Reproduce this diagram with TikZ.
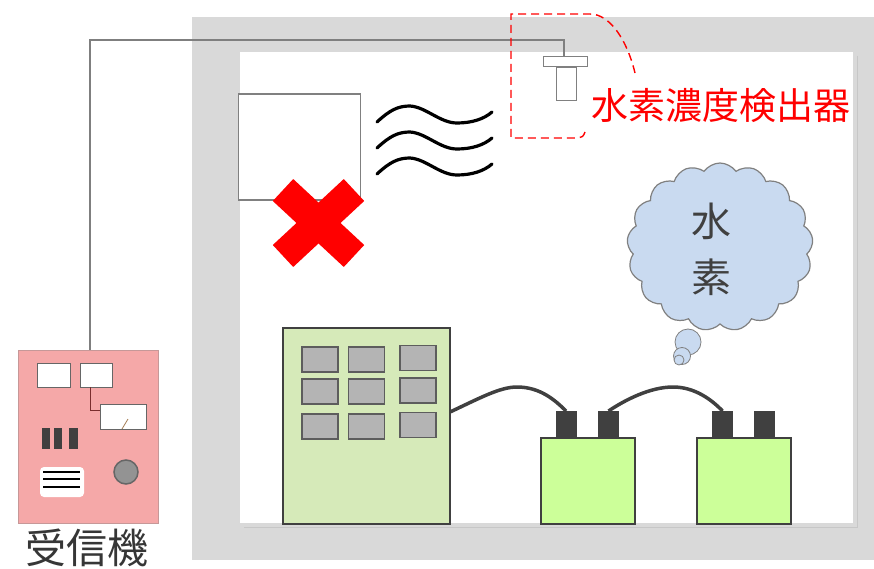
\documentclass[tikz,border=0pt]{standalone}
\usepackage{fontspec}
\newfontfamily\cjk{Noto Sans CJK JP}
\usetikzlibrary{shapes.symbols}
\definecolor{wallgray}{HTML}{D9D9D9}
\definecolor{wiregray}{HTML}{7F7F7F}
\definecolor{darkgray}{HTML}{404040}
\definecolor{panelgreen}{HTML}{D6EAB9}
\definecolor{batgreen}{HTML}{CCFF99}
\definecolor{recvpink}{HTML}{F5A8A8}
\definecolor{cloudblue}{HTML}{C9DAF0}
\definecolor{btngray}{HTML}{B4B4B4}
\tikzset{
  box/.style={rectangle, inner sep=0pt, outer sep=0pt},
  whitebox/.style={box, draw=darkgray!80, fill=white, line width=1pt},
  lamp/.style={box, draw=darkgray!85, fill=btngray, line width=1.6pt, minimum width=36pt, minimum height=25pt},
  battery/.style={box, draw=darkgray, fill=batgreen, line width=1.2pt, minimum width=94pt, minimum height=86pt},
  terminal/.style={box, fill=darkgray, minimum width=21pt, minimum height=27pt},
  cable/.style={darkgray, line width=3.5pt},
  wire/.style={wiregray, line width=1.6pt},
  wave/.style={black, line width=3.2pt, line cap=round},
}
\begin{document}
\begin{tikzpicture}[x=1pt,y=-1pt]
\useasboundingbox (0,0) rectangle (874,569);
\fill[white] (0,0) rectangle (874,569);

% room walls
\fill[wallgray] (192,17) rectangle (874,560);
\fill[white] (240,52) rectangle (853,523);
\draw[wallgray!80!gray, line width=0.6pt] (857,56) -- (857,527) -- (244,527);

% wiring from the detector to the receiver
\coordinate (wA) at (564,40);
\coordinate (wB) at (90,40);
\coordinate (wC) at (90,410);
\coordinate (wD) at (100,410);
\coordinate (wS) at (564,58);
\draw[wire] (wS) -- (wA) -- (wB) -- (wC) -- (wD);

% receiver
\node[box, draw=recvpink!60!gray, fill=recvpink, line width=1pt, minimum width=140pt, minimum height=173pt] (recv) at (88,436.5) {};
\node[whitebox, minimum width=33pt, minimum height=24pt] (disp1) at (53.5,375) {};
\node[whitebox, minimum width=32pt, minimum height=24pt] (disp2) at (96,375) {};
\draw[wire, line width=1pt, draw=darkgray!70!red] (90,387) -- (wC) -- (wD);
\node[whitebox, minimum width=46pt, minimum height=25pt] (meter) at (123,416.5) {};
\draw[brown!60!gray, line width=0.8pt] (122,429) -- (128,419);
\foreach \x in {46,58}
  \node[box, fill=darkgray, minimum width=8pt, minimum height=21pt] at (\x,438.5) {};
\node[box, fill=darkgray, minimum width=9pt, minimum height=21pt] (bars) at (73,438.5) {};
\node[box, fill=white, rounded corners=4pt, minimum width=44pt, minimum height=30pt] (speaker) at (62,482) {};
\foreach \y in {472,479,487}
  \draw[black, line width=1.3pt] (43,\y) -- (80,\y);
\node[circle, draw=gray!80!black, fill=gray!85, line width=1.5pt, minimum size=24pt, inner sep=0pt] (knob) at (126,472) {};
\node[font=\cjk\fontsize{41}{41}\selectfont, text=darkgray!85!black, inner sep=0pt] (recvlabel) at (87,548) {受信機};

% air conditioner, out of order
\node[box, draw=gray, fill=white, line width=1.4pt, minimum width=122pt, minimum height=106pt] (ac) at (299.5,147) {};
\begin{scope}[red, line width=30pt]
  \draw (283,190) -- (354,256);
  \draw (354,190) -- (283,256);
\end{scope}
\foreach \dy in {0,26,52}
  \draw[wave] (377,122+\dy) .. controls (390,110+\dy) and (398,106+\dy) .. (410,106+\dy)
     .. controls (426,107+\dy) and (440,123+\dy) .. (457,123+\dy)
     .. controls (472,123+\dy) and (484,119+\dy) .. (492,112+\dy);

% hydrogen detector
\node[box, draw=gray, fill=white, line width=1pt, minimum width=44pt, minimum height=10pt] (sbar) at (565,62) {};
\node[box, draw=gray, fill=white, line width=1pt, minimum width=20pt, minimum height=33pt] (sbody) at (566,84) {};
\draw[red, dashed, dash pattern=on 8pt off 5pt, line width=1.4pt]
  (585,132) .. controls (583,137) .. (576,138) -- (511,138) -- (511,14) -- (590,14)
  .. controls (610,14) and (627,40) .. (635,73);
\node[font=\cjk\fontsize{37}{37}\selectfont, text=red, inner sep=0pt, anchor=west] (slabel) at (591,106) {水素濃度検出器};

% hydrogen cloud
\node[cloud, cloud puffs=17, cloud puff arc=110, aspect=1.1, draw=gray, fill=cloudblue, line width=1.2pt,
      minimum width=186pt, minimum height=168pt, inner sep=0pt] (cloud) at (720,247) {};
\node[circle, draw=gray, fill=cloudblue, line width=0.8pt, minimum size=26pt, inner sep=0pt] (bub1) at (688,342) {};
\node[circle, draw=gray, fill=cloudblue, line width=0.8pt, minimum size=17pt, inner sep=0pt] (bub2) at (682,356) {};
\node[circle, draw=gray, fill=cloudblue, line width=0.8pt, minimum size=10pt, inner sep=0pt] (bub3) at (679,360) {};
\node[font=\cjk\fontsize{40}{40}\selectfont, text=darkgray, inner sep=0pt] (h1) at (711,221) {水};
\node[font=\cjk\fontsize{40}{40}\selectfont, text=darkgray, inner sep=0pt] (h2) at (711,277) {素};

% control panel
\node[box, draw=darkgray, fill=panelgreen, line width=1.6pt, minimum width=167pt, minimum height=196pt] (panel) at (366.5,426) {};
\foreach \x/\c in {320/a,366.5/b} \foreach \y/\r in {359.5/1,391.5/2,426.5/3}
  \node[lamp] (l\c\r) at (\x,\y) {};
\foreach \y/\r in {358/1,390.5/2,425/3}
  \node[lamp] (lc\r) at (418,\y) {};

% batteries
\node[battery] (bat1) at (588,481) {};
\node[battery] (bat2) at (744,481) {};
\coordinate (t1a) at (566,411);
\coordinate (t1b) at (608.5,411);
\coordinate (t2a) at (722.5,411);
\coordinate (t2b) at (764,411);
\draw[cable] (panel.east |- 0,412) .. controls (480,398) and (500,387) .. (517,387)
  .. controls (540,387) and (555,400) .. (t1a);
\draw[cable] (t1b) .. controls (625,400) and (650,387) .. (673,387)
  .. controls (695,387) and (712,400) .. (t2a);
\foreach \t in {t1a,t1b,t2a,t2b}
  \node[terminal, anchor=north] at (\t) {};
\end{tikzpicture}
\end{document}
